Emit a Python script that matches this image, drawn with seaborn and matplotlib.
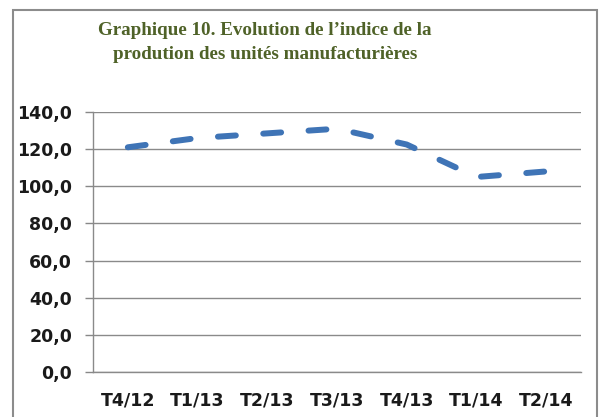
import numpy as np
import pandas as pd
import seaborn as sns
import matplotlib.pyplot as plt
from matplotlib.patches import Rectangle

# données (indice de production)
trimestres = ['T4/12', 'T1/13', 'T2/13', 'T3/13', 'T4/13', 'T1/14', 'T2/14']
indice = [121.0, 126.0, 128.5, 131.0, 122.5, 105.0, 108.0]
y_ticks = [0, 20, 40, 60, 80, 100, 120, 140]
y_labels = ['0,0', '20,0', '40,0', '60,0', '80,0', '100,0', '120,0', '140,0']
titre = "Graphique 10. Evolution de l\u2019indice de la\nprodution des unités manufacturières"

sns.set_style('white')
plt.rcParams['font.family'] = ['DejaVu Sans']

df = pd.DataFrame({'trimestre': trimestres, 'indice': indice})

fig = plt.figure(figsize=(6.01, 4.17), dpi=100)
ax = fig.add_axes([0.1547, 0.1079, 0.812, 0.6235])

sns.lineplot(data=df, x='trimestre', y='indice', ax=ax, sort=False,
             color='#3F74B6', linewidth=4.3, linestyle=(0, (3.0, 4.6)),
             dash_capstyle='round')

ax.set_xlim(-0.5, len(trimestres) - 0.5)
ax.set_ylim(0, 140)
ax.set_yticks(y_ticks)
ax.set_yticklabels(y_labels, fontsize=12.5, fontweight='bold', color='#1a1a1a')
ax.set_xticks(range(len(trimestres)))
ax.set_xticklabels(trimestres, fontsize=12.5, fontweight='bold', color='#1a1a1a')
ax.set_xticks(np.arange(-0.5, len(trimestres)), minor=True)
ax.tick_params(axis='x', which='major', length=0, pad=14)
ax.tick_params(axis='x', which='minor', length=6, width=1, color='#888888', direction='out')
ax.tick_params(axis='y', length=6, width=1, color='#888888', direction='out', left=True, pad=9)
ax.set_xlabel('')
ax.set_ylabel('')

ax.grid(axis='y', color='#8a8a8a', linewidth=1)
ax.set_axisbelow(True)
for s in ['top', 'right']:
    ax.spines[s].set_visible(False)
for s in ['left', 'bottom']:
    ax.spines[s].set_color('#8a8a8a')
    ax.spines[s].set_linewidth(1)

fig.text(0.441, 0.898, titre, ha='center', va='center', fontsize=13.7,
         fontweight='bold', family='Liberation Serif', color='#4F6228',
         linespacing=1.6)

# cadre du graphique
fig.patches.append(Rectangle((13 / 601, -0.02), 584 / 601, 1 - 10 / 417 + 0.02,
                             transform=fig.transFigure, fill=False,
                             edgecolor='#8c8c8c', linewidth=1.5))

fig.savefig('out.png', dpi=100)
